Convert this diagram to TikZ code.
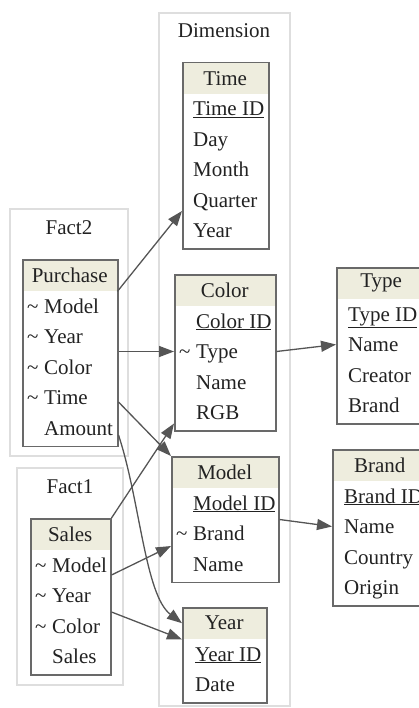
\documentclass[tikz,border=0pt]{standalone}
\usepackage{fontspec}
\setmainfont{Liberation Serif}
\usepackage{tikz}
\usetikzlibrary{arrows.meta}

\definecolor{hdrfill}{RGB}{238,237,222}
\definecolor{boxgray}{RGB}{105,105,105}
\definecolor{linkgray}{RGB}{85,85,85}
\definecolor{clustergray}{RGB}{222,222,222}
\definecolor{txt}{RGB}{34,34,34}

\begin{document}
\begin{tikzpicture}[x=1pt, y=-1pt, font=\fontsize{21}{25}\selectfont, text=txt,
    cluster/.style={draw=clustergray, line width=1.2pt},
    tbl/.style={draw=boxgray, line width=1.5pt, anchor=north west, inner sep=0pt, minimum height=156pt},
    hdr/.style={fill=hdrfill, anchor=north west, inner sep=0pt, minimum height=32pt},
    fld/.style={anchor=west, inner sep=0pt, text height=16pt, text depth=2pt},
    link/.style={draw=linkgray, line width=1.3pt, -{Triangle[length=15pt, width=11pt]}}]
    \clip (0,0) rectangle (419,708);
    % clusters
    \draw[cluster] (159,13) rectangle (290,706);
    \draw[cluster] (10,209) rectangle (128,456);
    \draw[cluster] (17,468) rectangle (123,685);
    \node (dimlbl) at (224,31) {Dimension};
    \node (fact2lbl) at (69,228) {Fact2};
    \node (fact1lbl) at (70,487) {Fact1};
    % Time
    \node[hdr, minimum width=86pt] (thdr) at (182,62) {Time};
    \node[tbl, minimum width=86pt, minimum height=186.5pt] (time) at (182,62) {};
    \node[fld] (tid) at (193,109) {\underline{Time ID}};
    \node[fld] (tday) at (193,139.5) {Day};
    \node[fld] (tmonth) at (193,170) {Month};
    \node[fld] (tquarter) at (193,200.5) {Quarter};
    \node[fld] (tyear) at (193,231) {Year};
    % Purchase
    \node[hdr, minimum width=95pt] (phdr) at (22,259) {Purchase};
    \node[tbl, minimum width=95pt, minimum height=186.5pt] (purchase) at (22,259) {};
    \node[fld] at (27,306) {\textasciitilde};
    \node[fld] (pmodel) at (44,306) {Model};
    \node[fld] at (27,336.5) {\textasciitilde};
    \node[fld] (pyear) at (44,336.5) {Year};
    \node[fld] at (27,367) {\textasciitilde};
    \node[fld] (pcolor) at (44,367) {Color};
    \node[fld] at (27,397.5) {\textasciitilde};
    \node[fld] (ptime) at (44,397.5) {Time};
    \node[fld] (pamount) at (44,428) {Amount};
    % Sales
    \node[hdr, minimum width=80pt] (shdr) at (30,518) {Sales};
    \node[tbl, minimum width=80pt] (sales) at (30,518) {};
    \node[fld] at (35,565) {\textasciitilde};
    \node[fld] (smodel) at (52,565) {Model};
    \node[fld] at (35,595.5) {\textasciitilde};
    \node[fld] (syear) at (52,595.5) {Year};
    \node[fld] at (35,626) {\textasciitilde};
    \node[fld] (scolor) at (52,626) {Color};
    \node[fld] (ssales) at (52,656.5) {Sales};
    % Color
    \node[hdr, minimum width=101pt] (chdr) at (174,274) {Color};
    \node[tbl, minimum width=101pt] (color) at (174,274) {};
    \node[fld] (cid) at (196,321) {\underline{Color ID}};
    \node[fld] at (179,351.5) {\textasciitilde};
    \node[fld] (ctype) at (196,351.5) {Type};
    \node[fld] (cname) at (196,382) {Name};
    \node[fld] (crgb) at (196,412.5) {RGB};
    % Model
    \node[hdr, minimum width=107pt] (mhdr) at (171,456) {Model};
    \node[tbl, minimum width=107pt, minimum height=125.5pt] (model) at (171,456) {};
    \node[fld] (mid) at (193,503) {\underline{Model ID}};
    \node[fld] at (176,533.5) {\textasciitilde};
    \node[fld] (mbrand) at (193,533.5) {Brand};
    \node[fld] (mname) at (193,564) {Name};
    % Year
    \node[hdr, minimum width=84pt] (yhdr) at (182,607) {Year};
    \node[tbl, minimum width=84pt, minimum height=95pt] (year) at (182,607) {};
    \node[fld] (yid) at (195,654) {\underline{Year ID}};
    \node[fld] (ydate) at (195,684.5) {Date};
    % Type
    \node[hdr, minimum width=90pt] (tphdr) at (336,267) {Type};
    \node[tbl, minimum width=90pt] (type) at (336,267) {};
    \node[fld] (tpid) at (348,314) {\underline{Type ID}};
    \node[fld] (tpname) at (348,344.5) {Name};
    \node[fld] (tpcreator) at (348,375) {Creator};
    \node[fld] (tpbrand) at (348,405.5) {Brand};
    % Brand
    \node[hdr, minimum width=95pt] (bhdr) at (332,449) {Brand};
    \node[tbl, minimum width=95pt] (brand) at (332,449) {};
    \node[fld] (bid) at (344,496) {\underline{Brand ID}};
    \node[fld] (bname) at (344,526.5) {Name};
    \node[fld] (bcountry) at (344,557) {Country};
    \node[fld] (borigin) at (344,587.5) {Origin};
    % links
    \draw[link] (phdr.south east) -- ([yshift=39pt]time.south west);
    \draw[link] (purchase.east |- ctype) -- (color.west |- ctype);
    \draw[link] ([yshift=-143pt]purchase.north east) -- (model.north west);
    \draw[link] ([yshift=12pt]purchase.south east) .. controls (140,500) and (145,595) .. (yhdr.west);
    \draw[link] (sales.north east) -- ([yshift=8pt]color.south west);
    \draw[link] ([yshift=-57pt]sales.north east) -- ([yshift=37pt]model.south west);
    \draw[link] ([yshift=-94pt]sales.north east) -- (yhdr.south west);
    \draw[link] (color.east |- ctype) -- (type.west |- tpname);
    \draw[link] (model.east) -- (brand.west |- bname);
\end{tikzpicture}
\end{document}
